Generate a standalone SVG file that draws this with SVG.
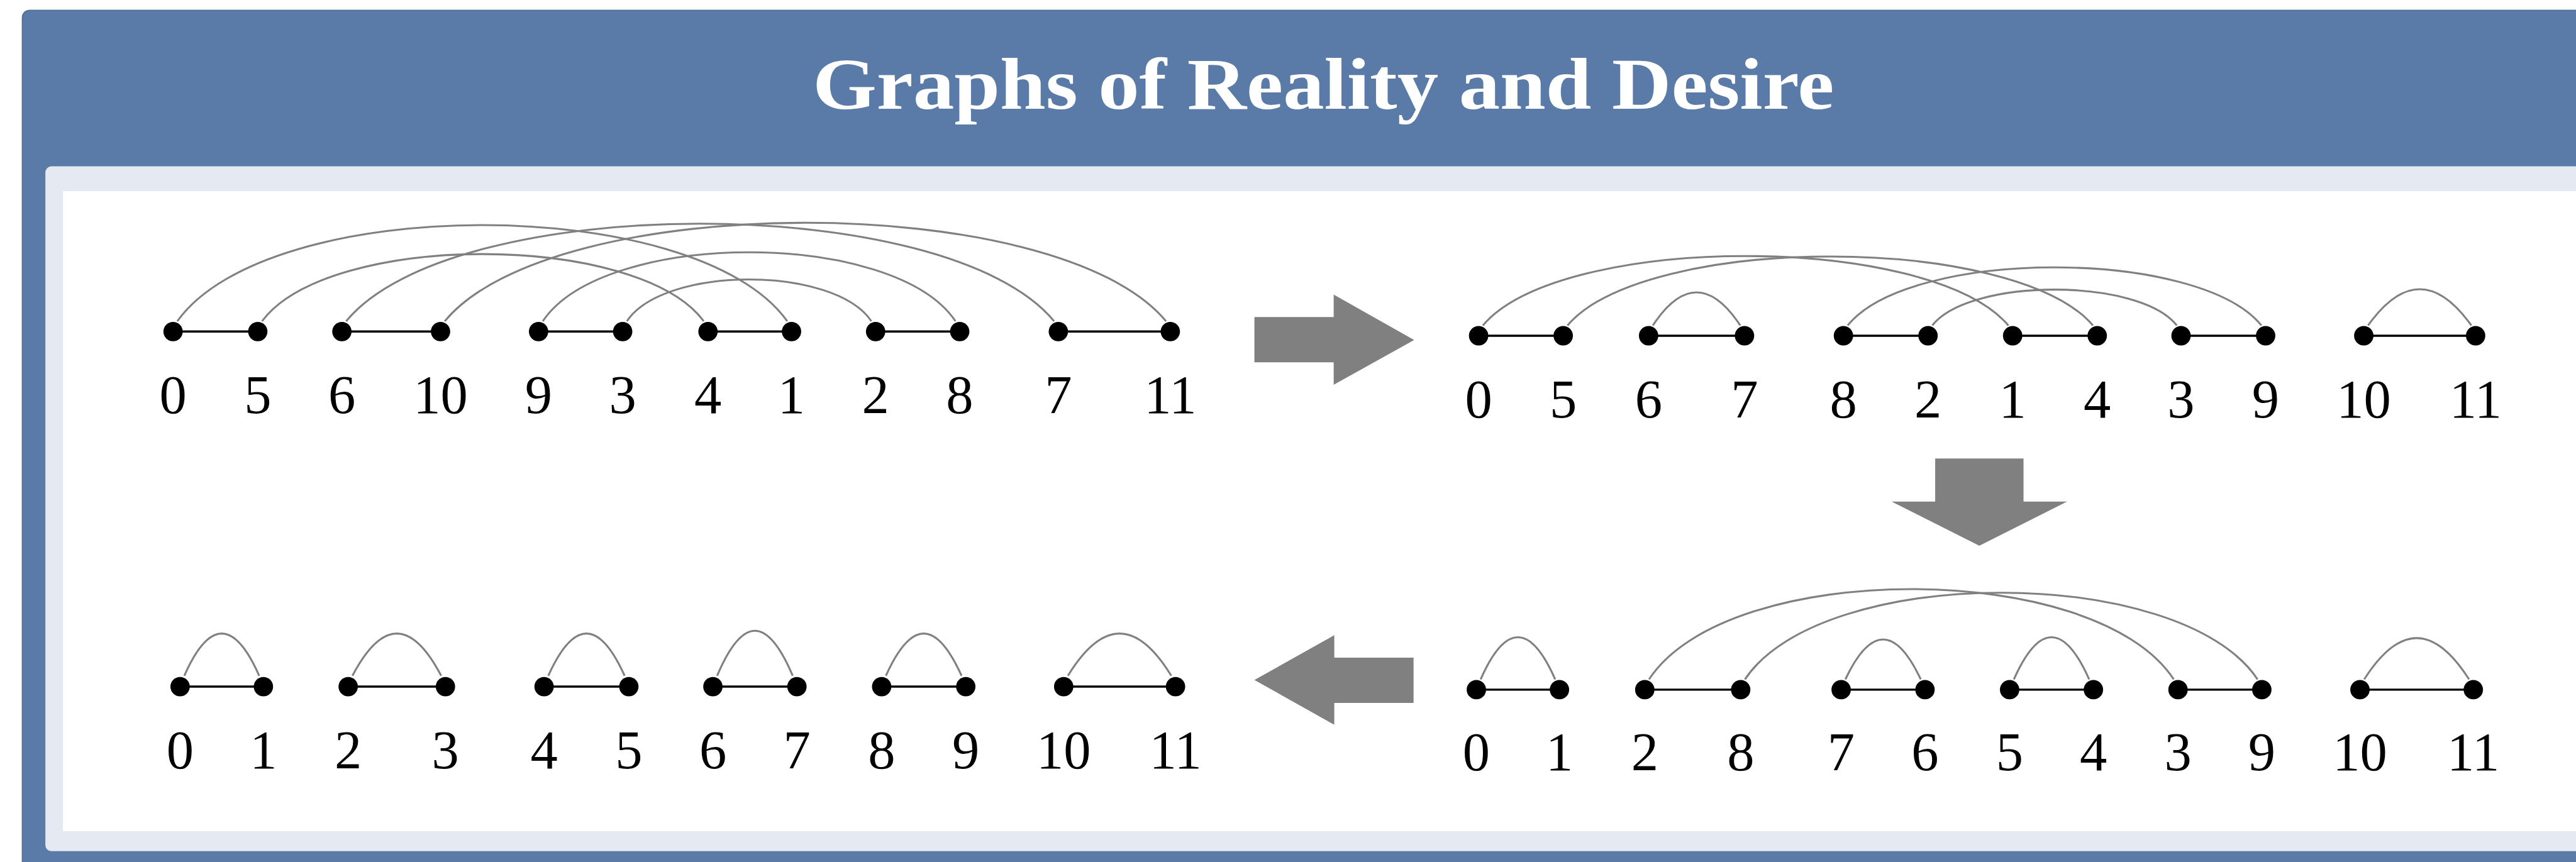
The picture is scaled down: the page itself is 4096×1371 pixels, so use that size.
<svg xmlns="http://www.w3.org/2000/svg" width="4096" height="1371" viewBox="0 0 4096 1371">
<style>
.dot{fill:#000}
.lbl{font-family:"Liberation Serif","Times New Roman",serif;font-size:90px;fill:#000;text-anchor:middle}
.re{stroke:#000;stroke-width:3.6;fill:none}
.de{stroke:#808080;stroke-width:3.2;fill:none}
.big{fill:#808080}
.title{font-family:"Liberation Serif","Times New Roman",serif;font-weight:bold;font-size:122px;fill:#fff;text-anchor:middle}
</style>
<rect width="4096" height="1371" fill="#fff"/>
<g transform="scale(0.962180)">
<g id="panel">
<rect x="37" y="17" width="4320" height="1500" rx="12" fill="#5A7BA7" stroke="#4F6F9C" stroke-width="2"/>
<rect x="75" y="275" width="4300" height="1132" rx="10" fill="#E5EAF2"/>
<rect x="104" y="316" width="4300" height="1058" fill="#fff"/>
<text class="title" x="2187" y="180" textLength="1688" lengthAdjust="spacingAndGlyphs">Graphs of Reality and Desire</text>
</g>
<g id="connectors">
<!-- row 1 reality edges -->
<line class="re" x1="286" y1="548" x2="426" y2="548"/>
<line class="re" x1="565" y1="548" x2="728" y2="548"/>
<line class="re" x1="890" y1="548" x2="1029" y2="548"/>
<line class="re" x1="1170" y1="548" x2="1308" y2="548"/>
<line class="re" x1="1447" y1="548" x2="1586" y2="548"/>
<line class="re" x1="1749" y1="548" x2="1934" y2="548"/>
<!-- row 1 desire edges -->
<path class="de" d="M293,531 C444,319 1150,319 1301,531"/>
<path class="de" d="M433,531 C543,383 1053,383 1163,531"/>
<path class="de" d="M572,531 C748,316 1566,316 1742,531"/>
<path class="de" d="M735,531 C914,314 1748,314 1927,531"/>
<path class="de" d="M897,531 C999,379 1477,379 1579,531"/>
<path class="de" d="M1036,531 C1097,439 1379,439 1440,531"/>
<!-- row 2 reality edges -->
<line class="re" x1="2443.5" y1="555" x2="2583.3" y2="555"/>
<line class="re" x1="2724.4" y1="555" x2="2882.9" y2="555"/>
<line class="re" x1="3046.4" y1="555" x2="3186.2" y2="555"/>
<line class="re" x1="3326" y1="555" x2="3465.8" y2="555"/>
<line class="re" x1="3604.3" y1="555" x2="3744.1" y2="555"/>
<line class="re" x1="3906.3" y1="555" x2="4091.1" y2="555"/>
<!-- row 2 desire edges -->
<path class="de" d="M2450.5,538 C2580.5,385 3189,385 3319,538"/>
<path class="de" d="M2590.3,538 C2720.3,386 3328.8,386 3458.8,538"/>
<path class="de" d="M3053.4,538 C3156.4,410 3634.1,410 3737.1,538"/>
<path class="de" d="M3193.2,538 C3254.2,459 3536.3,459 3597.3,538"/>
<path class="de" d="M2731.4,538 C2779.4,465 2827.9,465 2875.9,538"/>
<path class="de" d="M3913.3,538 C3970.3,458 4027.1,458 4084.1,538"/>
<!-- row 3 reality edges -->
<line class="re" x1="2439.8" y1="1140" x2="2577.1" y2="1140"/>
<line class="re" x1="2718.1" y1="1140" x2="2876.6" y2="1140"/>
<line class="re" x1="3042.6" y1="1140" x2="3181.2" y2="1140"/>
<line class="re" x1="3321" y1="1140" x2="3459.5" y2="1140"/>
<line class="re" x1="3599.3" y1="1140" x2="3737.8" y2="1140"/>
<line class="re" x1="3900" y1="1140" x2="4087.3" y2="1140"/>
<!-- row 3 desire edges -->
<path class="de" d="M2446.8,1123 C2487.8,1030 2529.1,1030 2570.1,1123"/>
<path class="de" d="M2725.1,1123 C2855.1,924 3462.3,924 3592.3,1123"/>
<path class="de" d="M2883.6,1123 C3010.6,932 3603.8,932 3730.8,1123"/>
<path class="de" d="M3049.6,1123 C3091.1,1035 3132.7,1035 3174.2,1123"/>
<path class="de" d="M3328,1123 C3369.5,1030 3411,1030 3452.5,1123"/>
<path class="de" d="M3907,1123 C3965,1032 4022.3,1032 4080.3,1123"/>
<!-- row 4 reality edges -->
<line class="re" x1="297.6" y1="1135" x2="435.3" y2="1135"/>
<line class="re" x1="575.4" y1="1135" x2="736.1" y2="1135"/>
<line class="re" x1="899.1" y1="1135" x2="1039.2" y2="1135"/>
<line class="re" x1="1178.1" y1="1135" x2="1317" y2="1135"/>
<line class="re" x1="1457" y1="1135" x2="1596" y2="1135"/>
<line class="re" x1="1757.8" y1="1135" x2="1942.6" y2="1135"/>
<!-- row 4 desire edges -->
<path class="de" d="M304.6,1117 C345.6,1024 387.3,1024 428.3,1117"/>
<path class="de" d="M582.4,1117 C631.4,1024 680.1,1024 729.1,1117"/>
<path class="de" d="M906.1,1117 C948.1,1024 990.2,1024 1032.2,1117"/>
<path class="de" d="M1185.1,1117 C1227.1,1018 1268,1018 1310,1117"/>
<path class="de" d="M1464,1117 C1506,1024 1547,1024 1589,1117"/>
<path class="de" d="M1764.8,1117 C1821.8,1024 1878.6,1024 1935.6,1117"/>
</g>
<g id="step-arrows">
<polygon id="arrow-right" class="big" points="2073,524 2204,524 2204,487 2337,562 2204,636 2204,599 2073,599"/>
<polygon id="arrow-down" class="big" points="3198,758 3344,758 3344,829 3416,829 3271,902 3126,829 3198,829"/>
<polygon id="arrow-left" class="big" points="2073,1124 2205,1050 2205,1087 2336,1087 2336,1162 2205,1162 2205,1198"/>
</g>
<g id="row1">
<g id="r1-0"><circle class="dot" cx="286" cy="548" r="16"/><text class="lbl" x="286" y="683">0</text></g>
<g id="r1-5"><circle class="dot" cx="426" cy="548" r="16"/><text class="lbl" x="426" y="683">5</text></g>
<g id="r1-6"><circle class="dot" cx="565" cy="548" r="16"/><text class="lbl" x="565" y="683">6</text></g>
<g id="r1-10"><circle class="dot" cx="728" cy="548" r="16"/><text class="lbl" x="728" y="683">10</text></g>
<g id="r1-9"><circle class="dot" cx="890" cy="548" r="16"/><text class="lbl" x="890" y="683">9</text></g>
<g id="r1-3"><circle class="dot" cx="1029" cy="548" r="16"/><text class="lbl" x="1029" y="683">3</text></g>
<g id="r1-4"><circle class="dot" cx="1170" cy="548" r="16"/><text class="lbl" x="1170" y="683">4</text></g>
<g id="r1-1"><circle class="dot" cx="1308" cy="548" r="16"/><text class="lbl" x="1308" y="683">1</text></g>
<g id="r1-2"><circle class="dot" cx="1447" cy="548" r="16"/><text class="lbl" x="1447" y="683">2</text></g>
<g id="r1-8"><circle class="dot" cx="1586" cy="548" r="16"/><text class="lbl" x="1586" y="683">8</text></g>
<g id="r1-7"><circle class="dot" cx="1749" cy="548" r="16"/><text class="lbl" x="1749" y="683">7</text></g>
<g id="r1-11"><circle class="dot" cx="1934" cy="548" r="16"/><text class="lbl" x="1934" y="683">11</text></g>
</g>
<g id="row2">
<g id="r2-0"><circle class="dot" cx="2443.5" cy="555" r="16"/><text class="lbl" x="2443.5" y="690">0</text></g>
<g id="r2-5"><circle class="dot" cx="2583.3" cy="555" r="16"/><text class="lbl" x="2583.3" y="690">5</text></g>
<g id="r2-6"><circle class="dot" cx="2724.4" cy="555" r="16"/><text class="lbl" x="2724.4" y="690">6</text></g>
<g id="r2-7"><circle class="dot" cx="2882.9" cy="555" r="16"/><text class="lbl" x="2882.9" y="690">7</text></g>
<g id="r2-8"><circle class="dot" cx="3046.4" cy="555" r="16"/><text class="lbl" x="3046.4" y="690">8</text></g>
<g id="r2-2"><circle class="dot" cx="3186.2" cy="555" r="16"/><text class="lbl" x="3186.2" y="690">2</text></g>
<g id="r2-1"><circle class="dot" cx="3326" cy="555" r="16"/><text class="lbl" x="3326" y="690">1</text></g>
<g id="r2-4"><circle class="dot" cx="3465.8" cy="555" r="16"/><text class="lbl" x="3465.8" y="690">4</text></g>
<g id="r2-3"><circle class="dot" cx="3604.3" cy="555" r="16"/><text class="lbl" x="3604.3" y="690">3</text></g>
<g id="r2-9"><circle class="dot" cx="3744.1" cy="555" r="16"/><text class="lbl" x="3744.1" y="690">9</text></g>
<g id="r2-10"><circle class="dot" cx="3906.3" cy="555" r="16"/><text class="lbl" x="3906.3" y="690">10</text></g>
<g id="r2-11"><circle class="dot" cx="4091.1" cy="555" r="16"/><text class="lbl" x="4091.1" y="690">11</text></g>
</g>
<g id="row3">
<g id="r3-0"><circle class="dot" cx="2439.8" cy="1140" r="16"/><text class="lbl" x="2439.8" y="1273">0</text></g>
<g id="r3-1"><circle class="dot" cx="2577.1" cy="1140" r="16"/><text class="lbl" x="2577.1" y="1273">1</text></g>
<g id="r3-2"><circle class="dot" cx="2718.1" cy="1140" r="16"/><text class="lbl" x="2718.1" y="1273">2</text></g>
<g id="r3-8"><circle class="dot" cx="2876.6" cy="1140" r="16"/><text class="lbl" x="2876.6" y="1273">8</text></g>
<g id="r3-7"><circle class="dot" cx="3042.6" cy="1140" r="16"/><text class="lbl" x="3042.6" y="1273">7</text></g>
<g id="r3-6"><circle class="dot" cx="3181.2" cy="1140" r="16"/><text class="lbl" x="3181.2" y="1273">6</text></g>
<g id="r3-5"><circle class="dot" cx="3321" cy="1140" r="16"/><text class="lbl" x="3321" y="1273">5</text></g>
<g id="r3-4"><circle class="dot" cx="3459.5" cy="1140" r="16"/><text class="lbl" x="3459.5" y="1273">4</text></g>
<g id="r3-3"><circle class="dot" cx="3599.3" cy="1140" r="16"/><text class="lbl" x="3599.3" y="1273">3</text></g>
<g id="r3-9"><circle class="dot" cx="3737.8" cy="1140" r="16"/><text class="lbl" x="3737.8" y="1273">9</text></g>
<g id="r3-10"><circle class="dot" cx="3900" cy="1140" r="16"/><text class="lbl" x="3900" y="1273">10</text></g>
<g id="r3-11"><circle class="dot" cx="4087.3" cy="1140" r="16"/><text class="lbl" x="4087.3" y="1273">11</text></g>
</g>
<g id="row4">
<g id="r4-0"><circle class="dot" cx="297.6" cy="1135" r="16"/><text class="lbl" x="297.6" y="1270">0</text></g>
<g id="r4-1"><circle class="dot" cx="435.3" cy="1135" r="16"/><text class="lbl" x="435.3" y="1270">1</text></g>
<g id="r4-2"><circle class="dot" cx="575.4" cy="1135" r="16"/><text class="lbl" x="575.4" y="1270">2</text></g>
<g id="r4-3"><circle class="dot" cx="736.1" cy="1135" r="16"/><text class="lbl" x="736.1" y="1270">3</text></g>
<g id="r4-4"><circle class="dot" cx="899.1" cy="1135" r="16"/><text class="lbl" x="899.1" y="1270">4</text></g>
<g id="r4-5"><circle class="dot" cx="1039.2" cy="1135" r="16"/><text class="lbl" x="1039.2" y="1270">5</text></g>
<g id="r4-6"><circle class="dot" cx="1178.1" cy="1135" r="16"/><text class="lbl" x="1178.1" y="1270">6</text></g>
<g id="r4-7"><circle class="dot" cx="1317" cy="1135" r="16"/><text class="lbl" x="1317" y="1270">7</text></g>
<g id="r4-8"><circle class="dot" cx="1457" cy="1135" r="16"/><text class="lbl" x="1457" y="1270">8</text></g>
<g id="r4-9"><circle class="dot" cx="1596" cy="1135" r="16"/><text class="lbl" x="1596" y="1270">9</text></g>
<g id="r4-10"><circle class="dot" cx="1757.8" cy="1135" r="16"/><text class="lbl" x="1757.8" y="1270">10</text></g>
<g id="r4-11"><circle class="dot" cx="1942.6" cy="1135" r="16"/><text class="lbl" x="1942.6" y="1270">11</text></g>
</g>
</g>
</svg>
